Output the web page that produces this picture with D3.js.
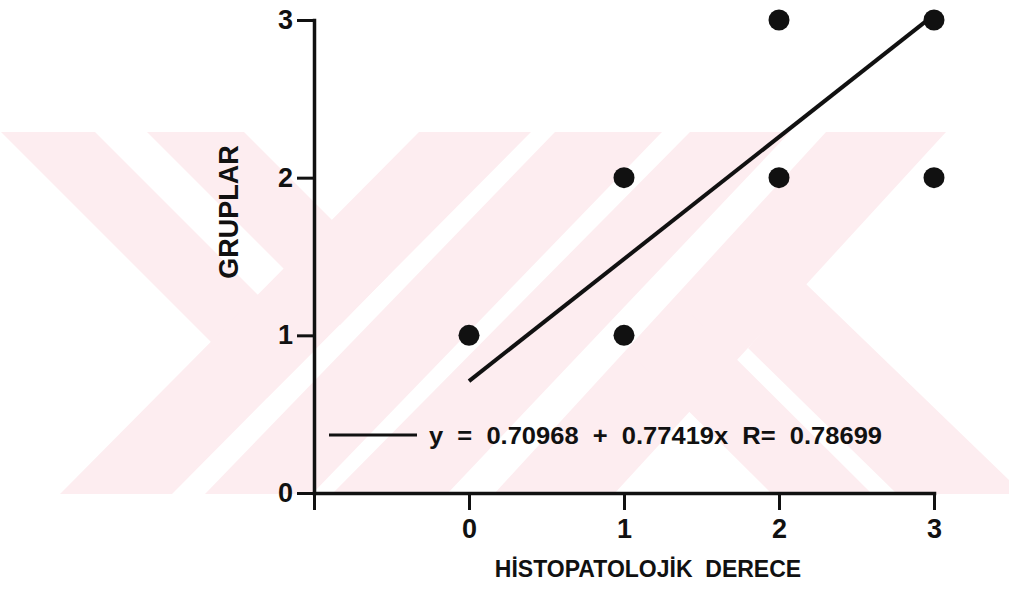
<!DOCTYPE html>
<html>
<head>
<meta charset="utf-8">
<style>
body { margin: 0; background: #fff; }
svg { display: block; font-family: "Liberation Sans", Arial, sans-serif; }
.axis text { font-weight: bold; font-size: 27px; fill: #111; }
.axis line { stroke: #111; stroke-width: 3; }
.axis path { stroke: #111; stroke-width: 3.5; }
.title { font-weight: bold; fill: #111; white-space: pre; }
</style>
</head>
<body>
<svg width="1009" height="595"></svg>
<script src="https://cdn.jsdelivr.net/npm/d3@7"></script>
<script>
/* data */
var xValues = [0, 1, 1, 2, 2, 3, 3];
var yValues = [1, 2, 1, 3, 2, 3, 2];
var xTicks = [-1, 0, 1, 2, 3];
var yTicks = [0, 1, 2, 3];
var intercept = 0.70968;
var slope = 0.77419;
var rValue = 0.78699;
var fitRange = [0, 3];

/* background watermark of the scanned page (pink bands), pixel polygons */
var watermark = [
    [[1, 132], [95, 132], [314, 351], [267, 398]],
    [[147, 132], [244, 132], [388, 276], [340, 325]],
    [[60, 494], [172, 494], [531, 132], [419, 132]],
    [[205, 494], [312, 494], [662, 132], [555, 132]],
    [[332, 494], [447, 494], [790, 132], [690, 132]],
    [[494, 494], [614, 494], [946, 132], [826, 132]],
    [[805, 283], [1009, 480], [1009, 494], [897, 494], [748, 348]],
    [[627, 350], [675, 298], [872, 494], [772, 494]]
];

var svg = d3.select("svg");

svg.append("g").selectAll("polygon")
    .data(watermark)
    .enter().append("polygon")
    .attr("points", function(d) { return d.join(" "); })
    .attr("fill", "#fdedf0");

var x = d3.scaleLinear().domain([-1, 3]).range([314, 934]);
var y = d3.scaleLinear().domain([0, 3]).range([493, 20]);

/* x-as, de tick op -1 verlengt de y-as naar beneden */
svg.append("g")
    .attr("class", "axis")
    .attr("transform", "translate(0," + y(0) + ")")
    .call(d3.axisBottom(x)
        .tickValues(xTicks)
        .tickSize(17)
        .tickSizeOuter(0)
        .tickPadding(9)
        .tickFormat(function(d) { return d < 0 ? "" : d; }));

svg.append("g")
    .attr("class", "axis")
    .attr("transform", "translate(" + x(-1) + ",0)")
    .call(d3.axisLeft(y)
        .tickValues(yTicks)
        .tickSize(17)
        .tickSizeOuter(0)
        .tickPadding(4)
        .tickFormat(d3.format("d")));

svg.selectAll(".axis .domain").attr("stroke-linecap", "square");

/* regression line */
var line = d3.line()
    .x(function(d) { return x(d); })
    .y(function(d) { return y(intercept + slope * d); });

svg.append("path")
    .datum(fitRange)
    .attr("fill", "none")
    .attr("stroke", "#111")
    .attr("stroke-width", 4)
    .attr("d", line);

svg.append("g").selectAll("circle")
    .data(xValues)
    .enter().append("circle")
    .attr("cx", function(d) { return x(d); })
    .attr("cy", function(d, i) { return y(yValues[i]); })
    .attr("r", 10.5)
    .attr("fill", "#111");

/* legend */
svg.append("line")
    .attr("x1", 329).attr("x2", 417)
    .attr("y1", 435).attr("y2", 435)
    .attr("stroke", "#111")
    .attr("stroke-width", 3);

svg.append("text")
    .attr("class", "title")
    .attr("x", 429)
    .attr("y", 436)
    .attr("dy", "0.35em")
    .attr("font-size", 23)
    .attr("textLength", 453)
    .attr("lengthAdjust", "spacingAndGlyphs")
    .text("y  =  " + intercept + "  +  " + slope + "x  R=  " + rValue);

/* titels */
svg.append("text")
    .attr("class", "title")
    .attr("x", 648)
    .attr("y", 569)
    .attr("dy", "0.35em")
    .attr("text-anchor", "middle")
    .attr("font-size", 23)
    .text("HİSTOPATOLOJİK  DERECE");

svg.append("text")
    .attr("class", "title")
    .attr("transform", "translate(229,212) rotate(-90)")
    .attr("dy", "0.35em")
    .attr("text-anchor", "middle")
    .attr("font-size", 27)
    .text("GRUPLAR");
</script>
</body>
</html>
